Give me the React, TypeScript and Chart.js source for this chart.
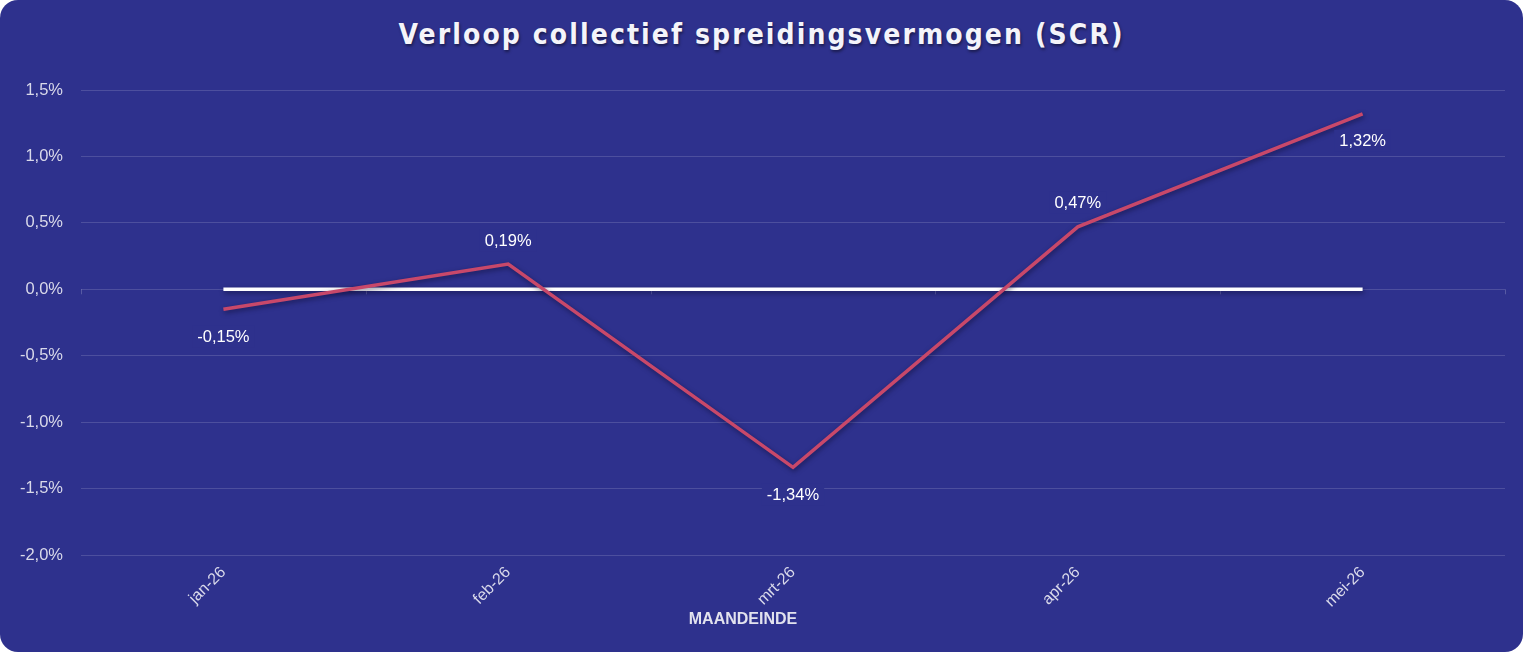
import React, { useEffect, useRef } from "react";
import { Chart, registerables } from "chart.js";

Chart.register(...registerables);

// Month-end categories and the collective spreading capacity (SCR) in percent
const months = ["jan-26", "feb-26", "mrt-26", "apr-26", "mei-26"];
const scrValues = [-0.15, 0.19, -1.34, 0.47, 1.32];
const zeroLine = [0, 0, 0, 0, 0];
const labelSides = ["below", "above", "below", "above", "below"];
const yMin = -2.0;
const yMax = 1.5;
const yStep = 0.5;

const BG = "#2E318D";
const LINE_RED = "#C8486A";
const TICK_COLOR = "#D9D9EA";
const GRID_COLOR = "rgba(255,255,255,0.15)";
const FONT = "'Liberation Sans', Arial, sans-serif";
const W = 1523;
const H = 652;

const fmtPct = (v: number, d: number) => {
  const s = (Math.abs(v) < 1e-9 ? 0 : v).toFixed(d).replace(".", ",");
  return s + "%";
};

// Draws the zero axis tick marks, the shadowed lines and the value labels
const decorPlugin = {
  id: "decor",
  beforeDatasetsDraw(chart: any) {
    const { ctx, chartArea, scales } = chart;
    const y0 = scales.y.getPixelForValue(0);
    ctx.save();
    ctx.strokeStyle = "rgba(255,255,255,0.2)";
    ctx.lineWidth = 1;
    ctx.beginPath();
    const n = months.length;
    const step = (chartArea.right - chartArea.left) / n;
    for (let i = 0; i <= n; i++) {
      const x = Math.round(chartArea.left + i * step) + 0.5;
      ctx.moveTo(x, y0);
      ctx.lineTo(x, y0 + 5);
    }
    ctx.stroke();
    ctx.restore();
  },
  beforeDatasetDraw(chart: any) {
    const ctx = chart.ctx;
    ctx.save();
    ctx.shadowColor = "rgba(10,10,40,0.55)";
    ctx.shadowBlur = 5;
    ctx.shadowOffsetX = 1;
    ctx.shadowOffsetY = 2;
  },
  afterDatasetDraw(chart: any) {
    chart.ctx.restore();
  },
  afterDatasetsDraw(chart: any) {
    const { ctx, scales } = chart;
    ctx.save();
    ctx.font = "16.5px " + FONT;
    ctx.textAlign = "center";
    ctx.textBaseline = "middle";
    scrValues.forEach((v, i) => {
      const x = scales.x.getPixelForValue(i);
      const y = scales.y.getPixelForValue(v);
      const cy = labelSides[i] === "below" ? y + 27 : y - 24;
      const text = fmtPct(v, 2);
      const w = ctx.measureText(text).width + 10;
      ctx.fillStyle = BG;
      ctx.fillRect(x - w / 2, cy - 11, w, 22);
      ctx.fillStyle = "#FFFFFF";
      ctx.fillText(text, x, cy + 1);
    });
    // Axis title under the month labels
    ctx.font = "bold 16px " + FONT;
    ctx.fillStyle = "#E2E2EE";
    ctx.fillText("MAANDEINDE", 743, 620);
    ctx.restore();
  },
};

export default function App() {
  const canvasRef = useRef<HTMLCanvasElement | null>(null);

  useEffect(() => {
    const canvas = canvasRef.current;
    if (!canvas) return;
    const chart = new Chart(canvas, {
      type: "line",
      data: {
        labels: months,
        datasets: [
          {
            label: "SCR",
            data: scrValues,
            borderColor: LINE_RED,
            borderWidth: 3.5,
            pointRadius: 0,
            tension: 0,
            order: 1,
          },
          {
            label: "Nul",
            data: zeroLine,
            borderColor: "#FFFFFF",
            borderWidth: 3.5,
            pointRadius: 0,
            tension: 0,
            order: 2,
          },
        ],
      },
      options: {
        animation: false,
        responsive: false,
        maintainAspectRatio: false,
        layout: { padding: { top: 90, right: 18, left: 0, bottom: 0 } },
        plugins: {
          legend: { display: false },
          title: { display: false },
          tooltip: { enabled: false },
        },
        scales: {
          x: {
            offset: true,
            grid: { display: false, drawTicks: false },
            border: { display: false },
            ticks: {
              color: TICK_COLOR,
              font: { size: 16, family: FONT },
              maxRotation: 45,
              minRotation: 45,
              padding: 8,
            },
            afterFit(scale: any) {
              scale.height = 97;
            },
          },
          y: {
            min: yMin,
            max: yMax,
            grid: { color: GRID_COLOR, drawTicks: false, lineWidth: 1 },
            border: { display: false },
            ticks: {
              stepSize: yStep,
              color: TICK_COLOR,
              padding: 18,
              font: { size: 16.5, family: FONT },
              callback: (v: any) => fmtPct(Number(v), 1),
            },
            afterFit(scale: any) {
              scale.width = 81;
            },
          },
        },
      },
      plugins: [decorPlugin],
    });
    return () => chart.destroy();
  }, []);

  return (
    <div
      style={{
        position: "absolute",
        left: 0,
        top: 0,
        width: W,
        height: H,
        background: BG,
        borderRadius: 18,
        overflow: "hidden",
      }}
    >
      <div
        style={{
          position: "absolute",
          left: 0,
          top: 13,
          width: W,
          textAlign: "center",
          color: "#F4F4FA",
          fontFamily: "'DejaVu Sans Condensed', 'DejaVu Sans', sans-serif",
          fontWeight: 700,
          fontSize: 28,
          letterSpacing: "2.1px",
          lineHeight: "44px",
          textShadow: "1px 2px 3px rgba(0,0,0,0.45)",
        }}
      >
        Verloop collectief spreidingsvermogen (SCR)
      </div>
      <canvas
        ref={canvasRef}
        width={W}
        height={H}
        style={{ position: "absolute", left: 0, top: 0, width: W, height: H }}
      />
    </div>
  );
}
